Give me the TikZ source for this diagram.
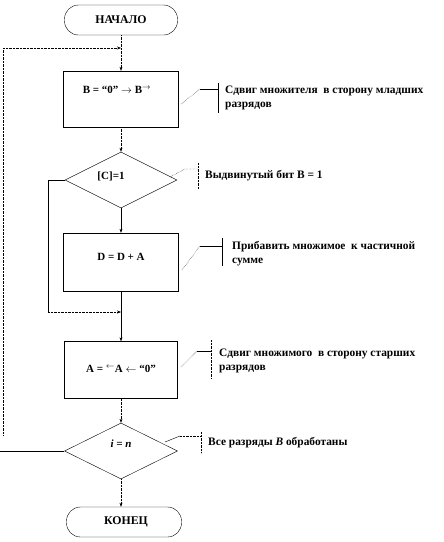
\documentclass[tikz,border=0pt]{standalone}
\usepackage{fontspec}
\setmainfont{Liberation Serif}
\usetikzlibrary{shapes.geometric,arrows.meta,calc}
\newcommand{\lift}[2]{\raisebox{#1}[0pt][0pt]{#2}}
\begin{document}
\begin{tikzpicture}[x=1pt,y=-1pt,
  every node/.style={font=\bfseries\fontsize{11}{14}\selectfont},
  term/.style={draw, rounded corners=14pt, minimum width=113pt, minimum height=30pt, inner sep=0pt, font=\bfseries\fontsize{11.8}{14}\selectfont},
  proc/.style={draw, minimum width=115pt, minimum height=56pt, inner sep=0pt},
  dec/.style={draw, diamond, minimum width=112pt, minimum height=56pt, inner sep=0pt, aspect=2},
  note/.style={anchor=west, align=left, inner sep=0pt, font=\bfseries\fontsize{11.4}{14}\selectfont},
  arr/.style={-{Stealth[length=4pt,width=3pt]}},
  dotl/.style={densely dotted}
]
\useasboundingbox (0,0) rectangle (444,542);

% main column
\node[term] (start) at (121,20) {НАЧАЛО};
\node[proc] (b1) at (121,99) {\hspace*{-8pt}\lift{5.5pt}{B = “0” $\rightarrow$ B\textsuperscript{$\rightarrow$}}};
\node[dec] (d1) at (121,180) {\hspace*{-20pt}\lift{0.5pt}{[C]=1}};
\node[proc, minimum height=58pt] (b2) at (121,262) {\lift{1.5pt}{D = D + A}};
\node[proc, minimum width=113pt, minimum height=57pt] (b3) at (121,370) {\lift{-2.5pt}{A = \textsuperscript{$\leftarrow$}A $\leftarrow$ “0”}};
\node[dec, minimum width=113pt] (d2) at (121,451) {\lift{3.5pt}{\itshape i = n}};
\node[term, minimum width=115pt] (end) at (124,522) {\hspace*{4pt}КОНЕЦ};

% loop coordinates
\coordinate (lt) at (3,48);
\coordinate (j1) at (121,48);
\coordinate (lb) at (3,435);
\coordinate (le) at (0,451);
\coordinate (s1) at (48,180);
\coordinate (s2) at (48,312);
\coordinate (j2) at (121,312);

% connectors
\draw[arr,dotl] (start) -- (b1);
\draw[arr,dotl] (lt) -- (j1);
\draw[dotl] (lb) -- (lt);
\draw (d2.west) -- (le);
\draw[arr,dotl] (b1) -- (d1);
\draw[arr] (d1) -- (b2);
\draw (d1.west) -- (s1) -- (s2);
\draw[arr,dotl] (s2) -- (j2);
\draw[arr] (b2) -- (b3);
\draw[arr,dotl] (b3) -- (d2);
\draw[arr,dotl] (d2.south) -- (d2.south |- end.north);

% annotation 1
\coordinate (a1s) at (181,104); \coordinate (a1k) at (200,89); \coordinate (a1h) at (218,89);
\coordinate (a1t) at (218,83); \coordinate (a1b) at (218,113);
\draw[dotl] (a1s) -- (a1k); \draw (a1k) -- (a1h); \draw (a1t) -- (a1b);
\node[note] (n1) at (225,98) {Сдвиг множителя \ в сторону младших\\разрядов};

% annotation 2
\coordinate (a2s) at (170,177); \coordinate (a2k) at (185,169); \coordinate (a2h) at (198,169);
\coordinate (a2t) at (198,163); \coordinate (a2b) at (198,189);
\draw[dotl] (a2s) -- (a2k) -- (a2h); \draw[dotl] (a2t) -- (a2b);
\node[note] (n2) at (205,176) {Выдвинутый бит B = 1};

% annotation 3
\coordinate (a3s) at (182,270); \coordinate (a3k) at (200,246); \coordinate (a3h) at (222,246);
\coordinate (a3t) at (222,238); \coordinate (a3b) at (222,266);
\draw[dotl] (a3s) -- (a3k); \draw (a3k) -- (a3h); \draw (a3t) -- (a3b);
\node[note] (n3) at (232,254) {Прибавить множимое \ к частичной\\сумме};

% annotation 4
\coordinate (a4s) at (181,367); \coordinate (a4k) at (197,351); \coordinate (a4h) at (211,351);
\coordinate (a4t) at (211,340); \coordinate (a4b) at (211,378);
\draw[dotl] (a4s) -- (a4k); \draw (a4k) -- (a4h); \draw[dotl] (a4t) -- (a4b);
\node[note] (n4) at (219,361) {Сдвиг множимого \ в сторону старших\\разрядов};

% annotation 5
\coordinate (a5s) at (165,442); \coordinate (a5k) at (180,436); \coordinate (a5h) at (201,436);
\coordinate (a5t) at (201,432); \coordinate (a5b) at (201,453);
\draw (a5s) -- (a5k); \draw[dotl] (a5k) -- (a5h); \draw[dotl] (a5t) -- (a5b);
\node[note] (n5) at (208,443) {Все разряды \textit{B} обработаны};
\end{tikzpicture}
\end{document}
